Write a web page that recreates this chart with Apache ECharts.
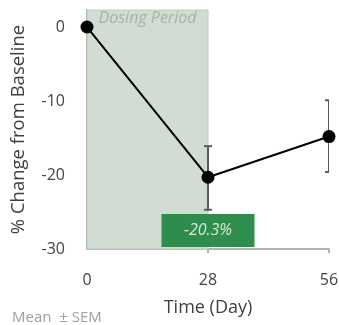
<!DOCTYPE html>
<html>
<head>
<meta charset="utf-8">
<script src="https://cdn.jsdelivr.net/npm/echarts@6/dist/echarts.min.js"></script>
<style>html,body{margin:0;padding:0;background:#fff}#c{width:339px;height:325px}</style>
</head>
<body>
<div id="c"></div>
<script>
const days = [0, 28, 56];
const meanChange = [0, -20.3, -14.8];
const semUpper = [null, -16.1, -9.9];
const semLower = [null, -24.7, -19.6];
const yTicks = [-30, -20, -10, 0];
const xTicks = [0, 28, 56];
const dosingPeriod = [0, 28];
const highlightLabel = '-20.3%';
const highlightDay = 28;

const FONT = 'Open Sans';
const chart = echarts.init(document.getElementById('c'), null, {renderer: 'canvas'});

const errData = days.map((d, i) => [d, semLower[i], semUpper[i]]).filter(r => r[1] !== null);

chart.setOption({
  animation: false,
  grid: {left: 87, right: 10, top: 10, bottom: 76, containLabel: false, outerBoundsMode: 'none'},
  xAxis: {
    type: 'value', min: 0, max: 56, interval: 28,
    splitLine: {show: false},
    axisLine: {onZero: false, lineStyle: {color: '#b4b4b4', width: 2}},
    axisTick: {show: true, length: 4, lineStyle: {color: '#b4b4b4', width: 2}, customValues: [28, 56]},
    axisLabel: {customValues: xTicks, color: '#444', fontSize: 16, fontFamily: FONT, margin: 23},
    name: 'Time (Day)', nameLocation: 'middle', nameGap: 50,
    nameTextStyle: {color: '#404040', fontSize: 18, fontFamily: FONT}
  },
  yAxis: {
    type: 'value', min: -30, max: 2.3, interval: 10,
    splitLine: {show: false},
    axisLine: {show: true, onZero: false, lineStyle: {color: '#a8a8a8', width: 2}},
    axisTick: {show: true, inside: true, length: 6, customValues: [-20, -10], lineStyle: {color: '#c4c4c4', width: 2}},
    axisLabel: {customValues: yTicks, color: '#444', fontSize: 16, fontFamily: FONT, margin: 22},
    name: '% Change from Baseline', nameLocation: 'middle', nameGap: 59,
    nameTextStyle: {color: '#404040', fontSize: 18.5, fontFamily: FONT}
  },
  series: [
    {
      type: 'line', data: [], z: 1, silent: true,
      markArea: {
        silent: true,
        itemStyle: {color: '#d1ddd3', borderColor: '#bfcbc1', borderWidth: 1},
        label: {show: true, position: 'insideTop', distance: 1, formatter: 'Dosing Period',
          color: '#a6b2a8', fontStyle: 'italic', fontSize: 16, fontFamily: FONT},
        data: [[{xAxis: dosingPeriod[0], yAxis: -30}, {xAxis: dosingPeriod[1], yAxis: 2.3}]]
      }
    },
    {
      type: 'custom', z: 3, clip: true, silent: true,
      data: errData,
      renderItem: function (params, api) {
        const x = api.value(0);
        const lo = api.coord([x, api.value(1)]);
        const hi = api.coord([x, api.value(2)]);
        const w = 4;
        const style = {stroke: '#5a5a5a', lineWidth: 2};
        return {type: 'group', children: [
          {type: 'line', shape: {x1: lo[0], y1: lo[1], x2: hi[0], y2: hi[1]}, style},
          {type: 'line', shape: {x1: lo[0] - w, y1: lo[1], x2: lo[0] + w, y2: lo[1]}, style},
          {type: 'line', shape: {x1: hi[0] - w, y1: hi[1], x2: hi[0] + w, y2: hi[1]}, style}
        ]};
      }
    },
    {
      type: 'line', z: 4,
      data: days.map((d, i) => [d, meanChange[i]]),
      symbol: 'circle', symbolSize: 13,
      itemStyle: {color: '#000'},
      lineStyle: {color: '#000', width: 2},
      clip: false
    },
    {
      type: 'custom', z: 5, silent: true, clip: false,
      data: [[highlightDay, -27.5]],
      renderItem: function (params, api) {
        const p = api.coord([api.value(0), api.value(1)]);
        const bw = 93, bh = 33;
        return {type: 'group', children: [
          {type: 'rect', shape: {x: p[0] - bw / 2, y: p[1] - bh / 2, width: bw, height: bh},
            style: {fill: 'rgba(40,137,71,0.97)'}},
          {type: 'text', style: {text: highlightLabel, x: p[0], y: p[1], align: 'center', verticalAlign: 'middle',
            fill: '#d4eadb', fontSize: 16, fontStyle: 'italic', fontFamily: FONT}}
        ]};
      }
    }
  ],
  graphic: [
    {type: 'text', left: 12, top: 310, style: {text: 'Mean  \u00b1 SEM', fill: '#a0a0a0', fontSize: 15, fontFamily: FONT}}
  ]
});
</script>
</body>
</html>
